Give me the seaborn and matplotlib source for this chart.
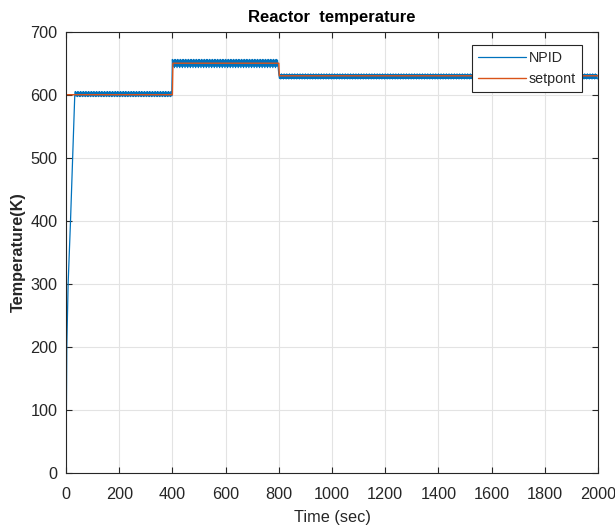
import numpy as np
import pandas as pd
import matplotlib
matplotlib.use("Agg")
import matplotlib.pyplot as plt
import seaborn as sns

# --- data -------------------------------------------------------------
# initial heat-up of the reactor (time in s, temperature in K)
rise_time = [0, 3, 8, 17, 25, 33]
rise_temp = [0, 200, 300, 400, 500, 600]

# operating segments: start / end time and the setpoint
seg_start = [35, 400, 800]
seg_end = [400, 800, 2000]
setpoint_level = [600, 650, 630]

# one controller oscillation cycle per segment (K), period in s
cycle_600 = [605, 598, 604, 597]
cycle_650 = [656, 645, 655, 643]
cycle_630 = [633, 626, 632, 625]
cycle_period = 10

x_ticks = [0, 200, 400, 600, 800, 1000, 1200, 1400, 1600, 1800, 2000]
y_ticks = [0, 100, 200, 300, 400, 500, 600, 700]

# --- build series -----------------------------------------------------
cycles = [cycle_600, cycle_650, cycle_630]
t_parts = [np.array(rise_time, dtype=float)]
y_parts = [np.array(rise_temp, dtype=float)]
for t0, t1, cyc in zip(seg_start, seg_end, cycles):
    step = cycle_period / len(cyc)
    t = np.arange(t0, t1, step)
    reps = int(np.ceil(len(t) / len(cyc)))
    y = np.tile(cyc, reps)[: len(t)]
    t_parts.append(t)
    y_parts.append(np.asarray(y, dtype=float))
npid = pd.DataFrame({"time": np.concatenate(t_parts),
                     "temp": np.concatenate(y_parts)})

sp_time = [0, seg_end[0], seg_end[0] + 2, seg_end[1], seg_end[1] + 2, seg_end[2]]
sp_temp = [setpoint_level[0], setpoint_level[0], setpoint_level[1],
           setpoint_level[1], setpoint_level[2], setpoint_level[2]]
setpoint = pd.DataFrame({"time": sp_time, "temp": sp_temp})

# --- style ------------------------------------------------------------
sns.set_theme(style="whitegrid")
plt.rcParams["font.family"] = ["Liberation Sans", "DejaVu Sans"]
text_col = "#262626"

fig = plt.figure(figsize=(6.15, 5.28), dpi=100, facecolor="white")
ax = fig.add_axes([66 / 615, 1 - 472.7 / 528, (598 - 66) / 615, (472.7 - 31.7) / 528])
ax.set_facecolor("white")

sns.lineplot(data=npid, x="time", y="temp", ax=ax, color="#0072BD",
             linewidth=0.9, label="NPID", estimator=None, sort=False)
sns.lineplot(data=setpoint, x="time", y="temp", ax=ax, color="#D95319",
             linewidth=1.0, label="setpont", estimator=None, sort=False)

ax.set_xlim(0, 2000)
ax.set_ylim(0, 700)
ax.set_xticks(x_ticks)
ax.set_yticks(y_ticks)
ax.grid(True, color="#e3e3e3", linewidth=0.8)
for s in ax.spines.values():
    s.set_color("#262626")
    s.set_linewidth(0.8)
ax.tick_params(direction="in", length=4, width=0.8, colors=text_col,
               labelsize=11.7, top=True, right=True,
               bottom=True, left=True)
ax.tick_params(axis="x", pad=10)
ax.tick_params(axis="y", pad=6)

ax.set_title("Reactor  temperature", fontsize=12, fontweight="bold",
             color="black", pad=7)
ax.set_xlabel("Time (sec)", fontsize=11.7, color=text_col, labelpad=6)
ax.set_ylabel("Temperature(K)", fontsize=11.7, fontweight="bold",
              color=text_col, labelpad=3)

leg = ax.legend(loc="upper right", bbox_to_anchor=(0.97, 0.97),
                fontsize=10.3, frameon=True, fancybox=False, framealpha=1,
                edgecolor="#262626", handlelength=3.35, borderpad=0.42,
                labelspacing=0.5, handletextpad=0.2, borderaxespad=0)
leg.get_frame().set_linewidth(0.8)

fig.savefig("out.png", dpi=100, facecolor="white")
